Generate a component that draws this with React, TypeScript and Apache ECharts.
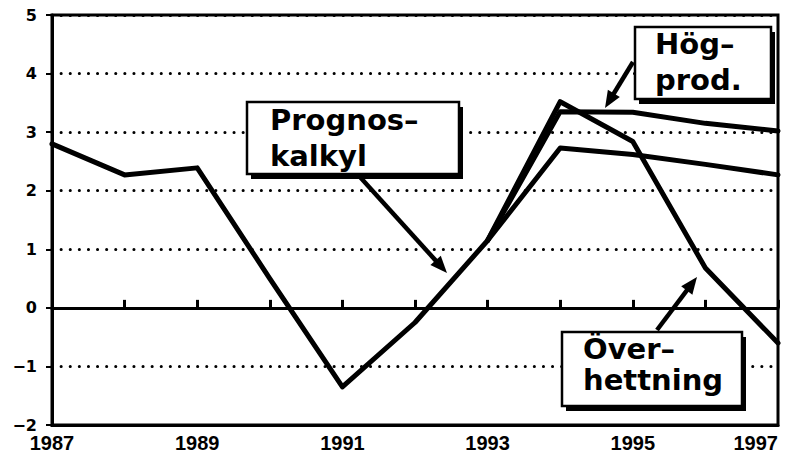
import React, { useEffect, useRef } from "react";
import * as echarts from "echarts";

// ---- Data ----
const years = [1987, 1988, 1989, 1990, 1991, 1992, 1993, 1994, 1995, 1996, 1997];
const prognoskalkyl = [2.8, 2.27, 2.39, 0.5, -1.35, -0.25, 1.15, 2.73, 2.62, 2.45, 2.27];
const scenarioYears = [1993, 1994, 1995, 1996, 1997];
const hogprod = [1.15, 3.35, 3.34, 3.15, 3.02];
const overhettning = [1.15, 3.52, 2.84, 0.68, -0.6];
const xLabelYears = [1987, 1989, 1991, 1993, 1995, 1997];
const yTicks = [-2, -1, 0, 1, 2, 3, 4, 5];

const boxFont = 'bold 29px "DejaVu Sans"';

function arrow(x1: number, y1: number, x2: number, y2: number) {
  const dx = x2 - x1;
  const dy = y2 - y1;
  const L = Math.hypot(dx, dy);
  const ux = dx / L;
  const uy = dy / L;
  const head = 17;
  const hw = 7;
  const bx = x2 - ux * head;
  const by = y2 - uy * head;
  const px = -uy;
  const py = ux;
  return [
    {
      type: "line",
      z: 100,
      shape: { x1, y1, x2: bx + ux * 3, y2: by + uy * 3 },
      style: { stroke: "#000", lineWidth: 4.5 },
    },
    {
      type: "polygon",
      z: 100,
      shape: {
        points: [
          [x2, y2],
          [bx + px * hw, by + py * hw],
          [bx - px * hw, by - py * hw],
        ],
      },
      style: { fill: "#000" },
    },
  ];
}

function box(x: number, y: number, w: number, h: number, text: string, tx: number, ty: number, lh: number) {
  return [
    { type: "rect", z: 100, shape: { x: x + 4, y: y + 5, width: w, height: h }, style: { fill: "#000" } },
    {
      type: "rect",
      z: 101,
      shape: { x, y, width: w, height: h },
      style: { fill: "#fff", stroke: "#000", lineWidth: 2.5 },
    },
    {
      type: "text",
      z: 102,
      x: tx,
      y: ty,
      style: { text, font: boxFont, lineHeight: lh, fill: "#000", align: "left", verticalAlign: "top" },
    },
  ];
}

export default function App() {
  const ref = useRef<HTMLDivElement>(null);
  useEffect(() => {
    if (!ref.current) return;
    const chart = echarts.init(ref.current, undefined, { renderer: "svg" });
    const lineStyle = { color: "#000", width: 5, join: "round" as const, cap: "round" as const };
    chart.setOption({
      animation: false,
      backgroundColor: "#fff",
      grid: {
        left: 52,
        right: 10,
        top: 15,
        bottom: 39,
        containLabel: false,
        outerBoundsMode: "none",
        show: true,
        borderColor: "#000",
        borderWidth: 3,
        backgroundColor: "transparent",
      },
      xAxis: [
        {
          type: "value",
          min: 1987,
          max: 1997,
          interval: 1,
          position: "bottom",
          axisLine: { onZero: false, lineStyle: { color: "#000", width: 3 } },
          axisTick: { show: false },
          splitLine: { show: false },
          axisLabel: {
            margin: 8,
            color: "#000",
            fontSize: 20,
            fontWeight: "bold",
            fontFamily: '"Liberation Sans"',
            hideOverlap: false,
            alignMaxLabel: "right",
            formatter: (v: number) => (xLabelYears.includes(Math.round(v)) ? String(Math.round(v)) : ""),
          },
        },
        {
          type: "value",
          min: 1987,
          max: 1997,
          interval: 1,
          position: "bottom",
          axisLine: { onZero: true, lineStyle: { color: "#000", width: 3 } },
          axisTick: { show: true, inside: true, length: 8, lineStyle: { color: "#000", width: 3 } },
          splitLine: { show: false },
          axisLabel: { show: false },
        },
      ],
      yAxis: {
        type: "value",
        min: -2,
        max: 5,
        interval: 1,
        axisLine: { show: true, onZero: false, lineStyle: { color: "#000", width: 3 } },
        axisTick: { show: true, length: 6, lineStyle: { color: "#000", width: 2 } },
        axisLabel: {
          margin: 15,
          color: "#000",
          fontSize: 16,
          fontWeight: "bold",
          fontFamily: '"DejaVu Sans"',
          formatter: (v: number) => (yTicks.includes(v) ? (v < 0 ? "\u2212" + Math.abs(v) : String(v)) : ""),
        },
        splitLine: {
          show: true,
          lineStyle: { color: "#000", width: 3, type: [0.1, 9], cap: "round" },
        },
      },
      series: [
        {
          name: "Prognoskalkyl",
          type: "line",
          symbol: "none",
          xAxisIndex: 0,
          lineStyle,
          data: years.map((y, i) => [y, prognoskalkyl[i]]),
          z: 5,
        },
        {
          name: "Hög-prod.",
          type: "line",
          symbol: "none",
          xAxisIndex: 0,
          lineStyle,
          data: scenarioYears.map((y, i) => [y, hogprod[i]]),
          z: 5,
        },
        {
          name: "Överhettning",
          type: "line",
          symbol: "none",
          xAxisIndex: 0,
          lineStyle,
          data: scenarioYears.map((y, i) => [y, overhettning[i]]),
          z: 5,
        },
      ],
      graphic: [
        ...arrow(360, 177, 447, 273),
        ...arrow(633, 62, 605, 108),
        ...arrow(657, 330, 697, 277),
        ...box(247, 102, 212, 72, "Prognos\u2013\nkalkyl", 270, 102, 36),
        ...box(635, 27, 136, 72, "Hög\u2013\nprod.", 655, 26, 36),
        ...box(562, 332, 180, 74, "Över\u2013\nhettning", 583, 333, 31),
      ],
    });
    return () => chart.dispose();
  }, []);
  return (
    <div
      ref={ref}
      style={{ position: "fixed", left: 0, top: 0, width: 788, height: 464, background: "#fff" }}
    />
  );
}
